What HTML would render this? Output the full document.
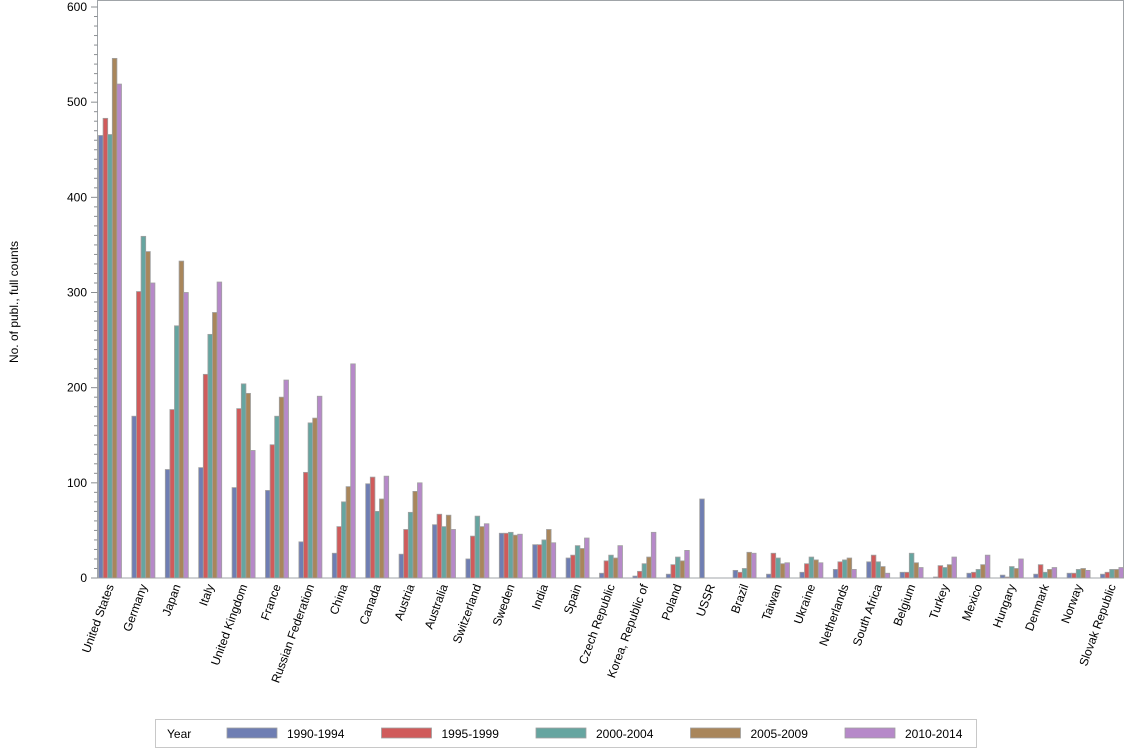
<!DOCTYPE html>
<html><head><meta charset="utf-8"><style>
body{margin:0;background:#fff;}
svg{display:block;font-family:"Liberation Sans",sans-serif;}
</style></head><body>
<svg id="c" width="1134" height="756" xmlns="http://www.w3.org/2000/svg">
<rect x="0" y="0" width="1134" height="756" fill="#fff"/>
<rect x="97.5" y="0.5" width="1026" height="577.5" fill="none" stroke="#a0a4a8" stroke-width="1"/>
<g id="ticks"></g>
<g id="bars"></g>
<g id="labels" font-size="12" fill="#000"></g>
<text transform="translate(18,302) rotate(-90)" text-anchor="middle" font-size="12">No. of publ., full counts</text>
<rect x="155.5" y="719.5" width="821" height="28" fill="#fff" stroke="#c8c8c8"/>
<text x="167" y="738" font-size="12">Year</text>
<g id="legend" font-size="12"></g>
</svg>
<script>
const ns="http://www.w3.org/2000/svg";
function el(p,t,a,txt){const e=document.createElementNS(ns,t);for(const k in a)e.setAttribute(k,a[k]);if(txt!==undefined)e.textContent=txt;document.getElementById(p).appendChild(e);return e;}
const cols=["#6f7eb3","#d05b5b","#66a5a0","#a9865b","#b689c9"];
const base=578,sc=571/600;
for(let v=0;v<=600;v+=10){const y=base-v*sc;const maj=v%100==0;
el("ticks","line",{x1:maj?91:94,x2:97.5,y1:y,y2:y,stroke:"#8a8e92","stroke-width":1});
if(maj)el("ticks","text",{x:87,y:y+4,"text-anchor":"end","font-size":12},String(v));}
const d=[["United States",[465,483,466,546,519]],["Germany",[170,301,359,343,310]],["Japan",[114,177,265,333,300]],["Italy",[116,214,256,279,311]],["United Kingdom",[95,178,204,194,134]],["France",[92,140,170,190,208]],["Russian Federation",[38,111,163,168,191]],["China",[26,54,80,96,225]],["Canada",[99,106,70,83,107]],["Austria",[25,51,69,91,100]],["Australia",[56,67,54,66,51]],["Switzerland",[20,44,65,54,57]],["Sweden",[47,47,48,45,46]],["India",[35,35,40,51,37]],["Spain",[21,24,34,31,42]],["Czech Republic",[5,18,24,21,34]],["Korea, Republic of",[2,7,15,22,48]],["Poland",[4,14,22,18,29]],["USSR",[83,0,0,0,0]],["Brazil",[8,6,10,27,26]],["Taiwan",[4,26,21,15,16]],["Ukraine",[6,15,22,19,16]],["Netherlands",[9,17,19,21,9]],["South Africa",[17,24,17,12,5]],["Belgium",[6,6,26,16,11]],["Turkey",[1,13,11,14,22]],["Mexico",[5,6,9,14,24]],["Hungary",[3,1,12,10,20]],["Denmark",[4,14,6,9,11]],["Norway",[5,5,9,10,8]],["Slovak Republic",[4,6,9,9,11]]];
const stride=33.4,bw=4.6;
d.forEach((g,i)=>{const x0=98.5+i*stride;
g[1].forEach((v,j)=>{if(v<=0)return;const h=v*sc;el("bars","rect",{x:x0+j*bw,y:base-h,width:bw,height:h,fill:cols[j],stroke:"#a0a0a0","stroke-width":0.8});});
const cx=x0+11.5+4;
el("labels","text",{transform:`translate(${cx},586) rotate(-70)`,"text-anchor":"end"},g[0]);
});
const ln=["1990-1994","1995-1999","2000-2004","2005-2009","2010-2014"];
ln.forEach((t,i)=>{const x=227+i*154.5;el("legend","rect",{x:x,y:728,width:50,height:10,fill:cols[i],stroke:"#a0a0a0","stroke-width":0.8});el("legend","text",{x:x+60,y:738},t);});
</script>
</body></html>
